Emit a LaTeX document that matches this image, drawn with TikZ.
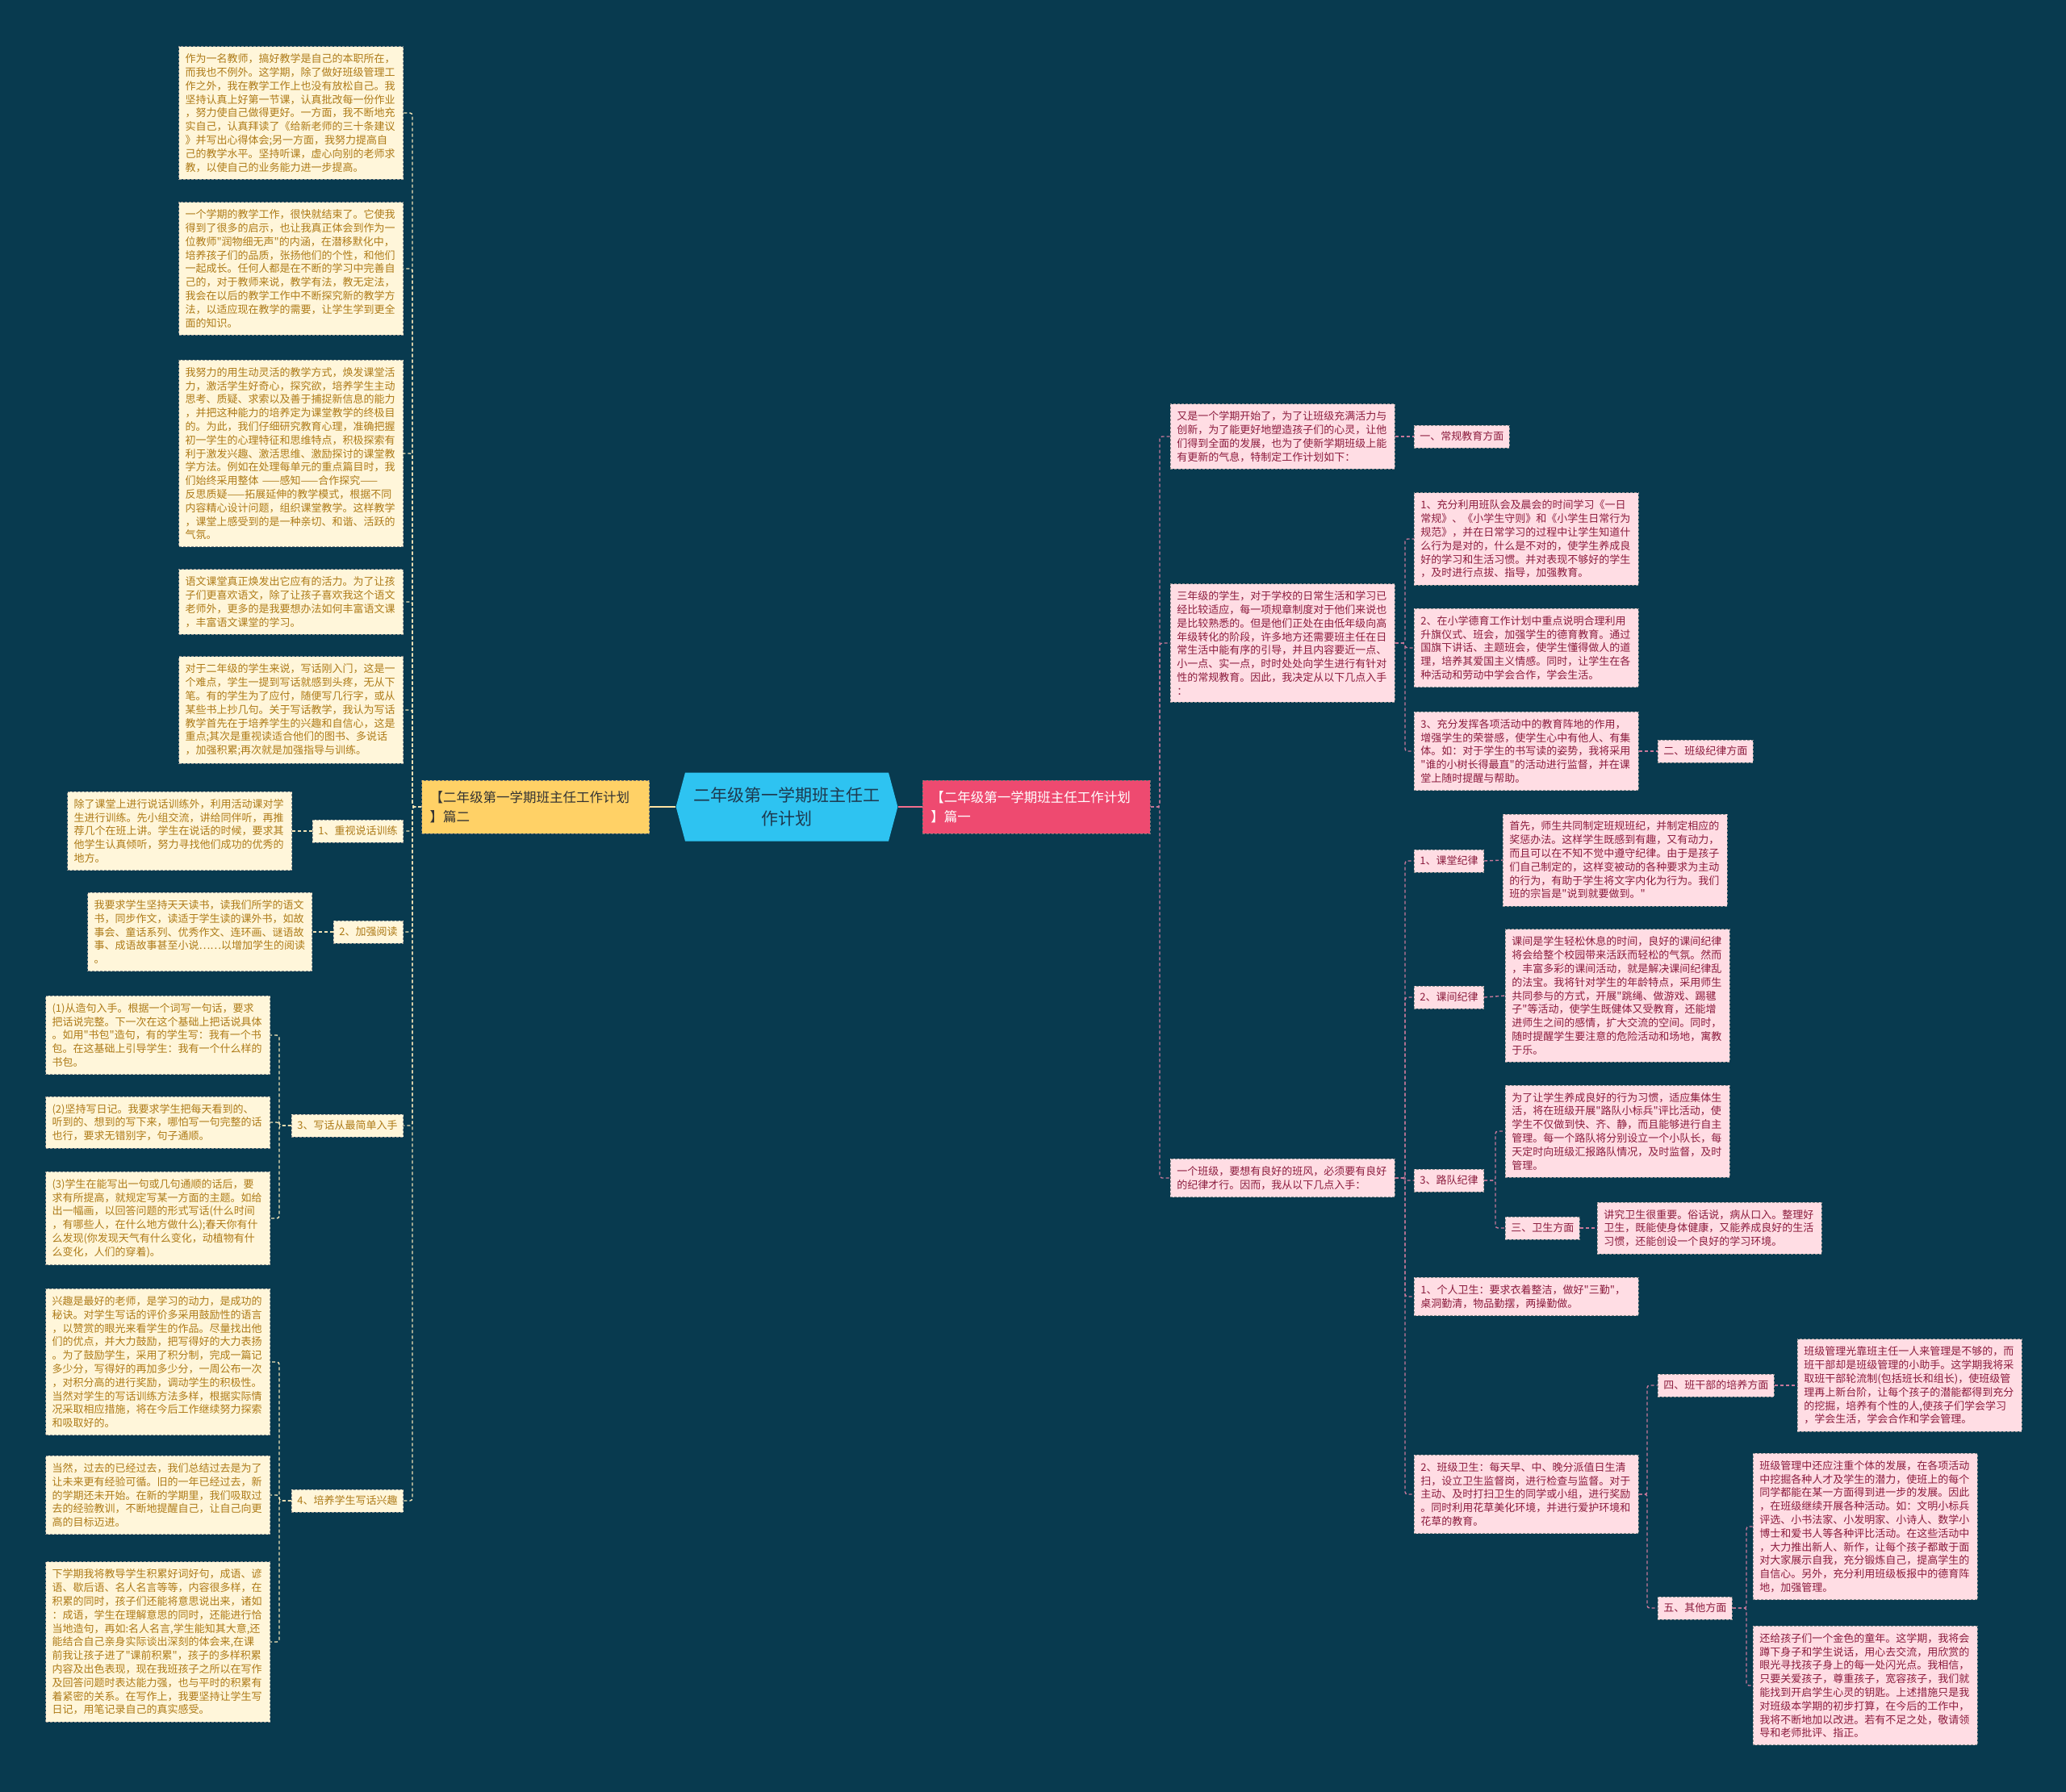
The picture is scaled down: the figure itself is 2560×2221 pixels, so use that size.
\documentclass[tikz,border=0pt]{standalone}
\usepackage{fontspec}
\newfontfamily\cjksans{Noto Sans CJK SC}
\usetikzlibrary{shapes.symbols}

\definecolor{bgteal}{HTML}{083A4F}
\definecolor{creamfill}{HTML}{FFF6DA}
\definecolor{creamtext}{HTML}{AE7B18}
\definecolor{creamline}{HTML}{F2E3B6}
\definecolor{pinkfill}{HTML}{FFDDE4}
\definecolor{pinktext}{HTML}{8C1C3E}
\definecolor{pinkline}{HTML}{C8789A}
\definecolor{boxedge}{HTML}{8E8E8E}
\definecolor{hubblue}{HTML}{2EC3F1}
\definecolor{hubtext}{HTML}{1D3A50}
\definecolor{partyellow}{HTML}{FFD166}
\definecolor{partpink}{HTML}{EE4A70}

\begin{document}
\begin{tikzpicture}[
  x=1pt, y=-1pt,
  font=\cjksans\fontsize{13}{16.8}\selectfont,
  note/.style={
    draw=boxedge, dash pattern=on 3pt off 2pt, line width=0.9pt,
    align=left, text width=262pt, inner xsep=8pt, inner ysep=9pt
  },
  lnote/.style={note, fill=creamfill, text=creamtext},
  rnote/.style={note, fill=pinkfill, text=pinktext},
  tag/.style={
    draw=boxedge, dash pattern=on 3pt off 2pt, line width=0.9pt,
    inner xsep=7pt, inner ysep=4pt, minimum height=28pt
  },
  ltag/.style={tag, fill=creamfill, text=creamtext},
  rtag/.style={tag, fill=pinkfill, text=pinktext},
  part/.style={
    draw=black!55, dash pattern=on 3pt off 2pt, line width=0.9pt,
    align=left, text width=262pt, inner xsep=10pt, minimum height=66pt,
    font=\cjksans\fontsize{16.5}{24}\selectfont
  },
  hub/.style={
    signal, signal to=east and west, signal pointer angle=150,
    fill=hubblue, text=hubtext, align=center, text width=236pt,
    minimum height=85pt, inner xsep=8pt, font=\cjksans\fontsize{21}{29}\selectfont
  },
  lnk/.style={draw=creamline, line width=1.4pt, dash pattern=on 4pt off 3pt, rounded corners=3pt},
  rlnk/.style={lnk, draw=pinkline}
]
  \useasboundingbox (0,0) rectangle (2560,2221);
  \fill[bgteal] (0,0) rectangle (2560,2221);

  %% centre
  \node[hub] (hub) at (975,1000) {二年级第一学期班主任工\\作计划};
  \node[part, fill=partyellow, text={black!80}, anchor=east] (p2) at (805,1000) {【二年级第一学期班主任工作计划\\】篇二};
  \node[part, fill=partpink, text=white, anchor=west] (p1) at (1143,1000) {【二年级第一学期班主任工作计划\\】篇一};
  \draw[line width=2pt, draw=partyellow!60!white] (hub.west) -- (p2.east);
  \draw[line width=2pt, draw=partpink!80!white] (hub.east) -- (p1.west);

  %% left branch (篇二)
  \coordinate (ltrunk) at (511,1000);
  \node[lnote, anchor=east] (l1) at (500,140) {作为一名教师，搞好教学是自己的本职所在，\\而我也不例外。这学期，除了做好班级管理工\\作之外，我在教学工作上也没有放松自己。我\\坚持认真上好第一节课，认真批改每一份作业\\，努力使自己做得更好。一方面，我不断地充\\实自己，认真拜读了《给新老师的三十条建议\\》并写出心得体会;另一方面，我努力提高自\\己的教学水平。坚持听课，虚心向别的老师求\\教，以使自己的业务能力进一步提高。};
  \node[lnote, anchor=east] (l2) at (500,333) {一个学期的教学工作，很快就结束了。它使我\\得到了很多的启示，也让我真正体会到作为一\\位教师"润物细无声"的内涵，在潜移默化中，\\培养孩子们的品质，张扬他们的个性，和他们\\一起成长。任何人都是在不断的学习中完善自\\己的，对于教师来说，教学有法，教无定法，\\我会在以后的教学工作中不断探究新的教学方\\法，以适应现在教学的需要，让学生学到更全\\面的知识。};
  \node[lnote, anchor=east] (l3) at (500,562) {我努力的用生动灵活的教学方式，焕发课堂活\\力，激活学生好奇心，探究欲，培养学生主动\\思考、质疑、求索以及善于捕捉新信息的能力\\，并把这种能力的培养定为课堂教学的终极目\\的。为此，我们仔细研究教育心理，准确把握\\初一学生的心理特征和思维特点，积极探索有\\利于激发兴趣、激活思维、激励探讨的课堂教\\学方法。例如在处理每单元的重点篇目时，我\\们始终采用整体~——感知——合作探究——\\反思质疑——拓展延伸的教学模式，根据不同\\内容精心设计问题，组织课堂教学。这样教学\\，课堂上感受到的是一种亲切、和谐、活跃的\\气氛。};
  \node[lnote, anchor=east] (l4) at (500,746) {语文课堂真正焕发出它应有的活力。为了让孩\\子们更喜欢语文，除了让孩子喜欢我这个语文\\老师外，更多的是我要想办法如何丰富语文课\\，丰富语文课堂的学习。};
  \node[lnote, anchor=east] (l5) at (500,880) {对于二年级的学生来说，写话刚入门，这是一\\个难点，学生一提到写话就感到头疼，无从下\\笔。有的学生为了应付，随便写几行字，或从\\某些书上抄几句。关于写话教学，我认为写话\\教学首先在于培养学生的兴趣和自信心，这是\\重点;其次是重视读适合他们的图书、多说话\\，加强积累;再次就是加强指导与训练。};
  \node[ltag, anchor=east] (a1) at (500,1030) {1、重视说话训练};
  \node[ltag, anchor=east] (a2) at (500,1155) {2、加强阅读};
  \node[ltag, anchor=east] (a3) at (500,1395) {3、写话从最简单入手};
  \node[ltag, anchor=east] (a4) at (500,1860) {4、培养学生写话兴趣};
  \foreach \n in {l1,l2,l3,l4,l5,a1,a2,a3,a4}
    \draw[lnk] (p2.west) -- (ltrunk) |- (\n.east);

  \node[lnote, anchor=east] (a1x) at (362,1030) {除了课堂上进行说话训练外，利用活动课对学\\生进行训练。先小组交流，讲给同伴听，再推\\荐几个在班上讲。学生在说话的时候，要求其\\他学生认真倾听，努力寻找他们成功的优秀的\\地方。};
  \draw[lnk] (a1.west) -- (a1x.east);
  \node[lnote, anchor=east] (a2x) at (387,1155) {我要求学生坚持天天读书，读我们所学的语文\\书，同步作文，读适于学生读的课外书，如故\\事会、童话系列、优秀作文、连环画、谜语故\\事、成语故事甚至小说……以增加学生的阅读\\。};
  \draw[lnk] (a2.west) -- (a2x.east);

  \coordinate (a3j) at (346,1395);
  \node[lnote, anchor=east] (a3x1) at (335,1283) {(1)从造句入手。根据一个词写一句话，要求\\把话说完整。下一次在这个基础上把话说具体\\。如用"书包"造句，有的学生写：我有一个书\\包。在这基础上引导学生：我有一个什么样的\\书包。};
  \node[lnote, anchor=east] (a3x2) at (335,1391) {(2)坚持写日记。我要求学生把每天看到的、\\听到的、想到的写下来，哪怕写一句完整的话\\也行，要求无错别字，句子通顺。};
  \node[lnote, anchor=east] (a3x3) at (335,1510) {(3)学生在能写出一句或几句通顺的话后，要\\求有所提高，就规定写某一方面的主题。如给\\出一幅画，以回答问题的形式写话(什么时间\\，有哪些人，在什么地方做什么);春天你有什\\么发现(你发现天气有什么变化，动植物有什\\么变化，人们的穿着)。};
  \foreach \n in {a3x1,a3x2,a3x3}
    \draw[lnk] (a3.west) -- (a3j) |- (\n.east);

  \coordinate (a4j) at (346,1860);
  \node[lnote, anchor=east] (a4x1) at (335,1688) {兴趣是最好的老师，是学习的动力，是成功的\\秘诀。对学生写话的评价多采用鼓励性的语言\\，以赞赏的眼光来看学生的作品。尽量找出他\\们的优点，并大力鼓励，把写得好的大力表扬\\。为了鼓励学生，采用了积分制，完成一篇记\\多少分，写得好的再加多少分，一周公布一次\\，对积分高的进行奖励，调动学生的积极性。\\当然对学生的写话训练方法多样，根据实际情\\况采取相应措施，将在今后工作继续努力探索\\和吸取好的。};
  \node[lnote, anchor=east] (a4x2) at (335,1853) {当然，过去的已经过去，我们总结过去是为了\\让未来更有经验可循。旧的一年已经过去，新\\的学期还未开始。在新的学期里，我们吸取过\\去的经验教训，不断地提醒自己，让自己向更\\高的目标迈进。};
  \node[lnote, anchor=east] (a4x3) at (335,2035) {下学期我将教导学生积累好词好句，成语、谚\\语、歇后语、名人名言等等，内容很多样，在\\积累的同时，孩子们还能将意思说出来，诸如\\：成语，学生在理解意思的同时，还能进行恰\\当地造句，再如:名人名言,学生能知其大意,还\\能结合自己亲身实际谈出深刻的体会来,在课\\前我让孩子进了"课前积累"，孩子的多样积累\\内容及出色表现，现在我班孩子之所以在写作\\及回答问题时表达能力强，也与平时的积累有\\着紧密的关系。在写作上，我要坚持让学生写\\日记，用笔记录自己的真实感受。};
  \foreach \n in {a4x1,a4x2,a4x3}
    \draw[lnk] (a4.west) -- (a4j) |- (\n.east);

  %% right branch (篇一)
  \coordinate (rtrunk) at (1437,1000);
  \node[rnote, anchor=west] (r1) at (1450,541) {又是一个学期开始了，为了让班级充满活力与\\创新，为了能更好地塑造孩子们的心灵，让他\\们得到全面的发展，也为了使新学期班级上能\\有更新的气息，特制定工作计划如下：};
  \node[rnote, anchor=west] (r2) at (1450,797) {三年级的学生，对于学校的日常生活和学习已\\经比较适应，每一项规章制度对于他们来说也\\是比较熟悉的。但是他们正处在由低年级向高\\年级转化的阶段，许多地方还需要班主任在日\\常生活中能有序的引导，并且内容要近一点、\\小一点、实一点，时时处处向学生进行有针对\\性的常规教育。因此，我决定从以下几点入手\\：};
  \node[rnote, anchor=west] (r3) at (1450,1460) {一个班级，要想有良好的班风，必须要有良好\\的纪律才行。因而，我从以下几点入手：};
  \foreach \n in {r1,r2,r3}
    \draw[rlnk] (p1.east) -- (rtrunk) |- (\n.west);

  \node[rtag, anchor=west] (r1x) at (1752,541) {一、常规教育方面};
  \draw[rlnk] (r1.east) -- (r1x.west);

  \coordinate (r2j) at (1741,797);
  \node[rnote, anchor=west] (s1) at (1752,668) {1、充分利用班队会及晨会的时间学习《一日\\常规》、《小学生守则》和《小学生日常行为\\规范》，并在日常学习的过程中让学生知道什\\么行为是对的，什么是不对的，使学生养成良\\好的学习和生活习惯。并对表现不够好的学生\\，及时进行点拔、指导，加强教育。};
  \node[rnote, anchor=west] (s2) at (1752,803) {2、在小学德育工作计划中重点说明合理利用\\升旗仪式、班会，加强学生的德育教育。通过\\国旗下讲话、主题班会，使学生懂得做人的道\\理，培养其爱国主义情感。同时，让学生在各\\种活动和劳动中学会合作，学会生活。};
  \node[rnote, anchor=west] (s3) at (1752,931) {3、充分发挥各项活动中的教育阵地的作用，\\增强学生的荣誉感，使学生心中有他人、有集\\体。如：对于学生的书写读的姿势，我将采用\\"谁的小树长得最直"的活动进行监督，并在课\\堂上随时提醒与帮助。};
  \foreach \n in {s1,s2,s3}
    \draw[rlnk] (r2.east) -- (r2j) |- (\n.west);
  \node[rtag, anchor=west] (s3x) at (2054,931) {二、班级纪律方面};
  \draw[rlnk] (s3.east) -- (s3x.west);

  \coordinate (r3j) at (1741,1460);
  \node[rtag, anchor=west] (t1) at (1752,1067) {1、课堂纪律};
  \node[rtag, anchor=west] (t2) at (1752,1236) {2、课间纪律};
  \node[rtag, anchor=west] (t3) at (1752,1463) {3、路队纪律};
  \node[rnote, anchor=west] (t4) at (1752,1607) {1、个人卫生：要求衣着整洁，做好"三勤"，\\桌洞勤清，物品勤摆，两操勤做。};
  \node[rnote, anchor=west] (t5) at (1752,1852) {2、班级卫生：每天早、中、晚分派值日生清\\扫，设立卫生监督岗，进行检查与监督。对于\\主动、及时打扫卫生的同学或小组，进行奖励\\。同时利用花草美化环境，并进行爱护环境和\\花草的教育。};
  \foreach \n in {t1,t2,t3,t4,t5}
    \draw[rlnk] (r3.east) -- (r3j) |- (\n.west);

  \node[rnote, anchor=west] (t1x) at (1862,1066) {首先，师生共同制定班规班纪，并制定相应的\\奖惩办法。这样学生既感到有趣，又有动力，\\而且可以在不知不觉中遵守纪律。由于是孩子\\们自己制定的，这样变被动的各种要求为主动\\的行为，有助于学生将文字内化为行为。我们\\班的宗旨是"说到就要做到。"};
  \draw[rlnk] (t1.east) -- (t1x.west);
  \node[rnote, anchor=west] (t2x) at (1865,1234) {课间是学生轻松休息的时间，良好的课间纪律\\将会给整个校园带来活跃而轻松的气氛。然而\\，丰富多彩的课间活动，就是解决课间纪律乱\\的法宝。我将针对学生的年龄特点，采用师生\\共同参与的方式，开展"跳绳、做游戏、踢毽\\子"等活动，使学生既健体又受教育，还能增\\进师生之间的感情，扩大交流的空间。同时，\\随时提醒学生要注意的危险活动和场地，寓教\\于乐。};
  \draw[rlnk] (t2.east) -- (t2x.west);

  \coordinate (t3j) at (1853,1463);
  \node[rnote, anchor=west] (u1) at (1865,1402) {为了让学生养成良好的行为习惯，适应集体生\\活，将在班级开展"路队小标兵"评比活动，使\\学生不仅做到快、齐、静，而且能够进行自主\\管理。每一个路队将分别设立一个小队长，每\\天定时向班级汇报路队情况，及时监督，及时\\管理。};
  \node[rtag, anchor=west] (u2) at (1865,1522) {三、卫生方面};
  \foreach \n in {u1,u2}
    \draw[rlnk] (t3.east) -- (t3j) |- (\n.west);
  \node[rnote, anchor=west] (u2x) at (1979,1522) {讲究卫生很重要。俗话说，病从口入。整理好\\卫生，既能使身体健康，又能养成良好的生活\\习惯，还能创设一个良好的学习环境。};
  \draw[rlnk] (u2.east) -- (u2x.west);

  \coordinate (t5j) at (2041,1852);
  \node[rtag, anchor=west] (v1) at (2054,1717) {四、班干部的培养方面};
  \node[rtag, anchor=west] (v2) at (2054,1993) {五、其他方面};
  \foreach \n in {v1,v2}
    \draw[rlnk] (t5.east) -- (t5j) |- (\n.west);
  \node[rnote, anchor=west] (v1x) at (2227,1717) {班级管理光靠班主任一人来管理是不够的，而\\班干部却是班级管理的小助手。这学期我将采\\取班干部轮流制(包括班长和组长)，使班级管\\理再上新台阶，让每个孩子的潜能都得到充分\\的挖掘，培养有个性的人,使孩子们学会学习\\，学会生活，学会合作和学会管理。};
  \draw[rlnk] (v1.east) -- (v1x.west);

  \coordinate (v2j) at (2164,1993);
  \node[rnote, anchor=west] (w1) at (2172,1892) {班级管理中还应注重个体的发展，在各项活动\\中挖掘各种人才及学生的潜力，使班上的每个\\同学都能在某一方面得到进一步的发展。因此\\，在班级继续开展各种活动。如：文明小标兵\\评选、小书法家、小发明家、小诗人、数学小\\博士和爱书人等各种评比活动。在这些活动中\\，大力推出新人、新作，让每个孩子都敢于面\\对大家展示自我，充分锻炼自己，提高学生的\\自信心。另外，充分利用班级板报中的德育阵\\地，加强管理。};
  \node[rnote, anchor=west] (w2) at (2172,2089) {还给孩子们一个金色的童年。这学期，我将会\\蹲下身子和学生说话，用心去交流，用欣赏的\\眼光寻找孩子身上的每一处闪光点。我相信，\\只要关爱孩子，尊重孩子，宽容孩子，我们就\\能找到开启学生心灵的钥匙。上述措施只是我\\对班级本学期的初步打算，在今后的工作中，\\我将不断地加以改进。若有不足之处，敬请领\\导和老师批评、指正。};
  \foreach \n in {w1,w2}
    \draw[rlnk] (v2.east) -- (v2j) |- (\n.west);
\end{tikzpicture}
\end{document}
